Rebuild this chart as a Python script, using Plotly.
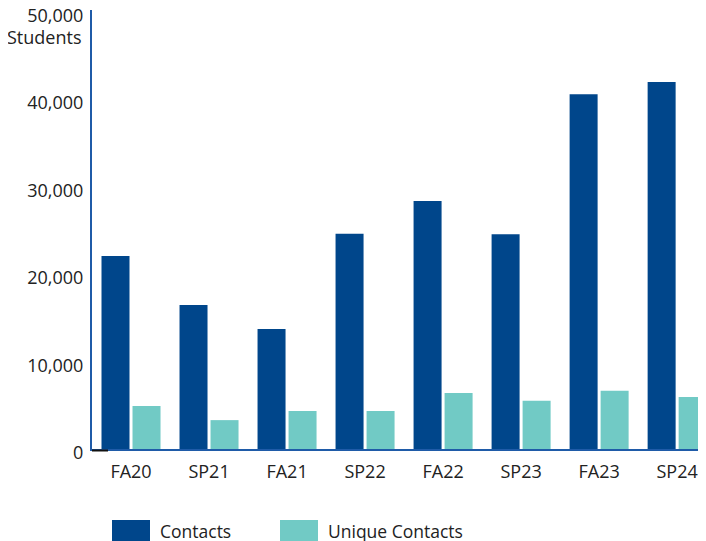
import plotly.graph_objects as go

categories = ["FA20", "SP21", "FA21", "SP22", "FA22", "SP23", "FA23", "SP24"]
contacts = [22050, 16450, 13700, 24600, 28350, 24550, 40550, 41950]
unique_contacts = [4900, 3300, 4350, 4350, 6400, 5500, 6650, 5950]
y_ticks = [0, 10000, 20000, 30000, 40000, 50000]
y_tick_labels = ["0", "10,000", "20,000", "30,000", "40,000", "50,000"]

c_contacts = "#00468B"
c_unique = "#71CAC5"
font_family = "'Open Sans', 'Noto Sans', sans-serif"
text_color = "#222222"

fig = go.Figure()
fig.add_trace(go.Bar(x=categories, y=contacts, name="Contacts",
                     marker=dict(color=c_contacts, line=dict(width=0))))
fig.add_trace(go.Bar(x=categories, y=unique_contacts, name="Unique Contacts",
                     marker=dict(color=c_unique, line=dict(width=0))))

# page has an 8px body margin; figure coords = page coords - 8
W, H = 706, 541
ml, mr, mt, mb = 84, 8, 2, 100
pw = W - ml - mr
ph = H - mt - mb
fig.update_layout(
    width=W, height=H,
    margin=dict(l=ml, r=mr, t=mt, b=mb, pad=0, autoexpand=False),
    paper_bgcolor="white", plot_bgcolor="white",
    barmode="group", bargap=0.205, bargroupgap=0.097,
    showlegend=False,
    font=dict(family=font_family, size=18, color=text_color),
    xaxis=dict(range=[-0.5, 7.37], showline=True, linecolor="#1F5BA8", linewidth=2,
               showgrid=False, ticks="outside", ticklen=5, tickcolor="rgba(0,0,0,0)",
               tickfont=dict(size=18, color=text_color),
               automargin=False, fixedrange=True),
    yaxis=dict(range=[0, 50171], tickvals=y_ticks, ticktext=y_tick_labels,
               showline=True, linecolor="#1F5BA8", linewidth=2, showgrid=False,
               zeroline=False, ticks="outside", ticklen=3, tickcolor="rgba(0,0,0,0)",
               ticklabeloverflow="allow", ticklabelshift=4, automargin=False,
               tickfont=dict(size=18, color=text_color), fixedrange=True),
)

fig.add_annotation(text="Students", xref="paper", yref="paper", x=0, y=1,
                   xanchor="right", yanchor="middle", xshift=-9, yshift=-27,
                   showarrow=False, font=dict(size=18, color=text_color))

# small dark tick at the axis origin
fig.add_shape(type="line", xref="paper", yref="paper", x0=0, x1=16 / pw, y0=-1.5 / ph, y1=-1.5 / ph,
              line=dict(color="#111111", width=2))

# legend swatches
legend_items = [("Contacts", c_contacts, 104), ("Unique Contacts", c_unique, 272)]
for name, col, px in legend_items:
    x0 = (px - ml) / pw
    x1 = (px + 38 - ml) / pw
    y0 = (H - mb - 533) / ph
    y1 = (H - mb - 512) / ph
    fig.add_shape(type="rect", xref="paper", yref="paper", x0=x0, x1=x1, y0=y0, y1=y1,
                  fillcolor=col, line=dict(width=0))
    fig.add_annotation(text=name, xref="paper", yref="paper", x=(px + 46 - ml) / pw,
                       y=(H - mb - 523) / ph, xanchor="left", yanchor="middle",
                       showarrow=False, font=dict(size=17.5, color=text_color))

fig.write_html("out.html")
